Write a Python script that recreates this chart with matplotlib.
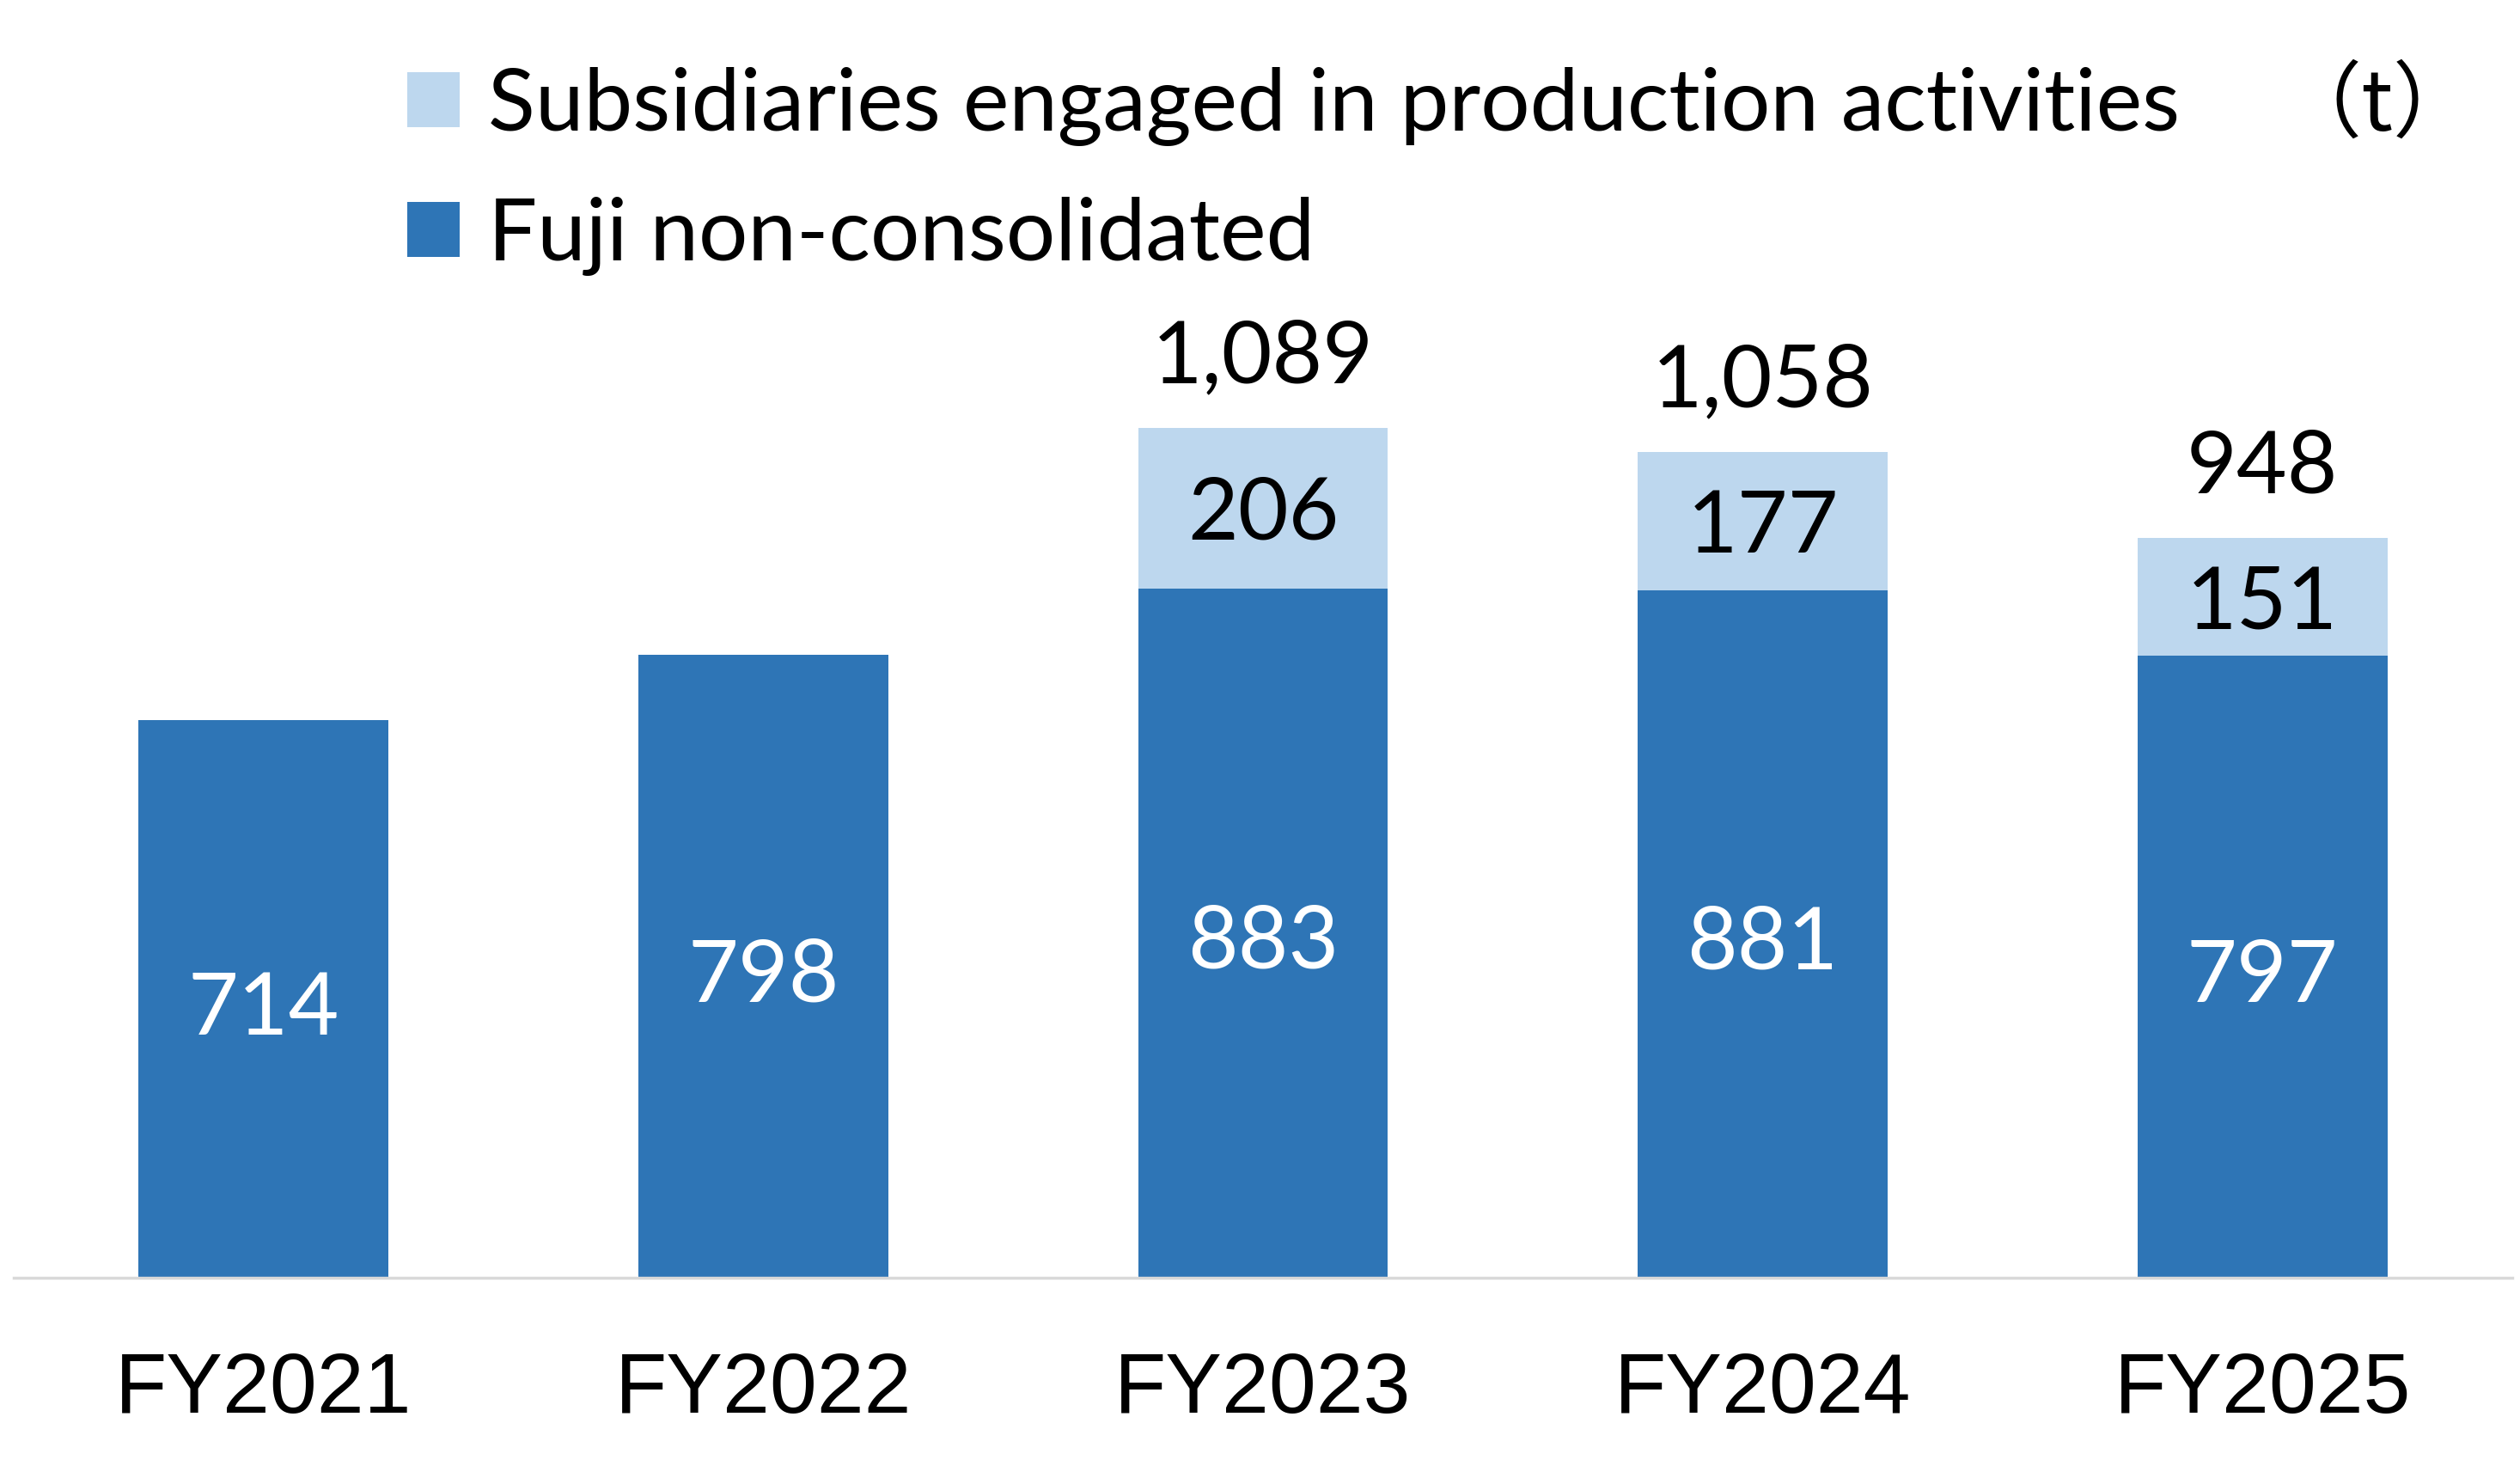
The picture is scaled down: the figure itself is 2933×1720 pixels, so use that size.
import matplotlib.pyplot as plt
import numpy as np

years = ["FY2021", "FY2022", "FY2023", "FY2024", "FY2025"]
fuji = [714, 798, 883, 881, 797]
subs = [np.nan, np.nan, 206, 177, 151]
totals = [None, None, 1089, 1058, 948]

dark = "#2E75B6"
light = "#BDD7EE"

plt.rcParams['font.family'] = ['Lato', 'DejaVu Sans']

fig = plt.figure(figsize=(29.33, 17.2), dpi=100)
ax = fig.add_axes([16/2933, 233/1720, 2908/2933, 1272/1720])

x = np.arange(len(years))
b1 = ax.bar(x, fuji, width=0.5, color=dark, zorder=2)
b2 = ax.bar(x, np.nan_to_num(subs), width=0.5, bottom=fuji, color=light, zorder=2)

for i in range(len(years)):
    ax.annotate(f"{fuji[i]:,}", (x[i], fuji[i] / 2), xytext=(0, -9),
                textcoords='offset points', ha='center', va='center',
                color='white', fontsize=73)
    if not np.isnan(subs[i]):
        ax.annotate(f"{int(subs[i]):,}", (x[i], fuji[i] + subs[i] / 2), xytext=(0, -6),
                    textcoords='offset points', ha='center', va='center',
                    color='black', fontsize=73)
    if totals[i] is not None:
        ax.annotate(f"{totals[i]:,}", (x[i], totals[i]), xytext=(0, 58),
                    textcoords='offset points', ha='center', va='center',
                    fontsize=73, color='black')

ax.set_xlim(-0.5, 4.5)
ax.set_ylim(0, 1400)
ax.set_yticks([])
ax.set_xticks(x)
ax.set_xticklabels(years, fontsize=71, family=['Liberation Sans'])
ax.tick_params(axis='x', length=0, pad=62)
for s in ['top', 'right', 'left']:
    ax.spines[s].set_visible(False)
ax.spines['bottom'].set_color('#D9D9D9')
ax.spines['bottom'].set_linewidth(2.5)

fig.legend([b2, b1], ["Subsidiaries engaged in production activities", "Fuji non-consolidated"],
           loc='upper left', bbox_to_anchor=(474/2933, 1 - 78/1720), frameon=False,
           fontsize=73, handlelength=0.6, handleheight=0.6, handletextpad=0.33,
           labelspacing=0.58, borderpad=0, borderaxespad=0)

fig.text(2767/2933, 1 - 124/1720, "（t）", ha='center', va='center', fontsize=70,
         family=['Noto Sans CJK JP', 'DejaVu Sans'])

fig.savefig("out.png", dpi=100)
